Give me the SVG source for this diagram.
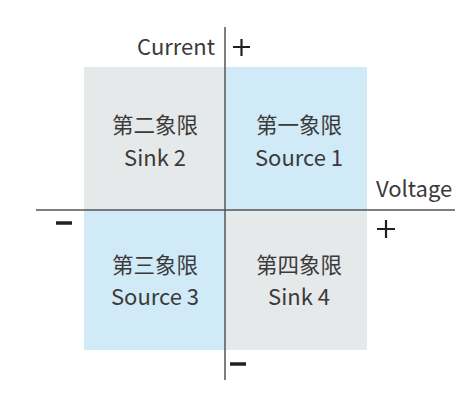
<svg xmlns="http://www.w3.org/2000/svg" width="473" height="393" viewBox="0 0 473 393">
<style>
.t{font-family:"Noto Sans CJK SC","Noto Sans",sans-serif;font-size:22px;fill:#3a3a3a}
.c{font-size:21.5px}
.m{text-anchor:middle}
.ax{stroke:#555;stroke-width:1.5;fill:none}
.sg{stroke:#231f20;stroke-width:2.2;fill:none}
.mn{stroke:#231f20;stroke-width:3.5;fill:none}
</style>
<rect width="473" height="393" fill="#fff"/>
<g id="q2"><rect x="84" y="67" width="141" height="143" fill="#e6e9e9"/><text class="t c m" x="155" y="133">第二象限</text><text class="t m" x="155" y="166">Sink 2</text></g>
<g id="q1"><rect x="225" y="67" width="142" height="143" fill="#d1eaf8"/><text class="t c m" x="299" y="133">第一象限</text><text class="t m" x="299" y="166">Source 1</text></g>
<g id="q3"><rect x="84" y="210" width="141" height="140" fill="#d1eaf8"/><text class="t c m" x="155" y="273">第三象限</text><text class="t m" x="155" y="305">Source 3</text></g>
<g id="q4"><rect x="225" y="210" width="142" height="140" fill="#e6e9e9"/><text class="t c m" x="299" y="273">第四象限</text><text class="t m" x="299" y="305">Sink 4</text></g>
<g id="connectors">
<line class="ax" x1="36" y1="210" x2="455" y2="210"/>
<line class="ax" x1="225" y1="27" x2="225" y2="380"/>
</g>
<g id="labels">
<text class="t" x="215" y="55" text-anchor="end">Current</text>
<text class="t" x="376" y="197">Voltage</text>
<path class="sg" d="M233 47h17M241.5 39v17"/>
<path class="sg" d="M377 229h18M386 220v18"/>
<path class="mn" d="M56 223h16"/>
<path class="mn" d="M230 364h16"/>
</g>
</svg>
